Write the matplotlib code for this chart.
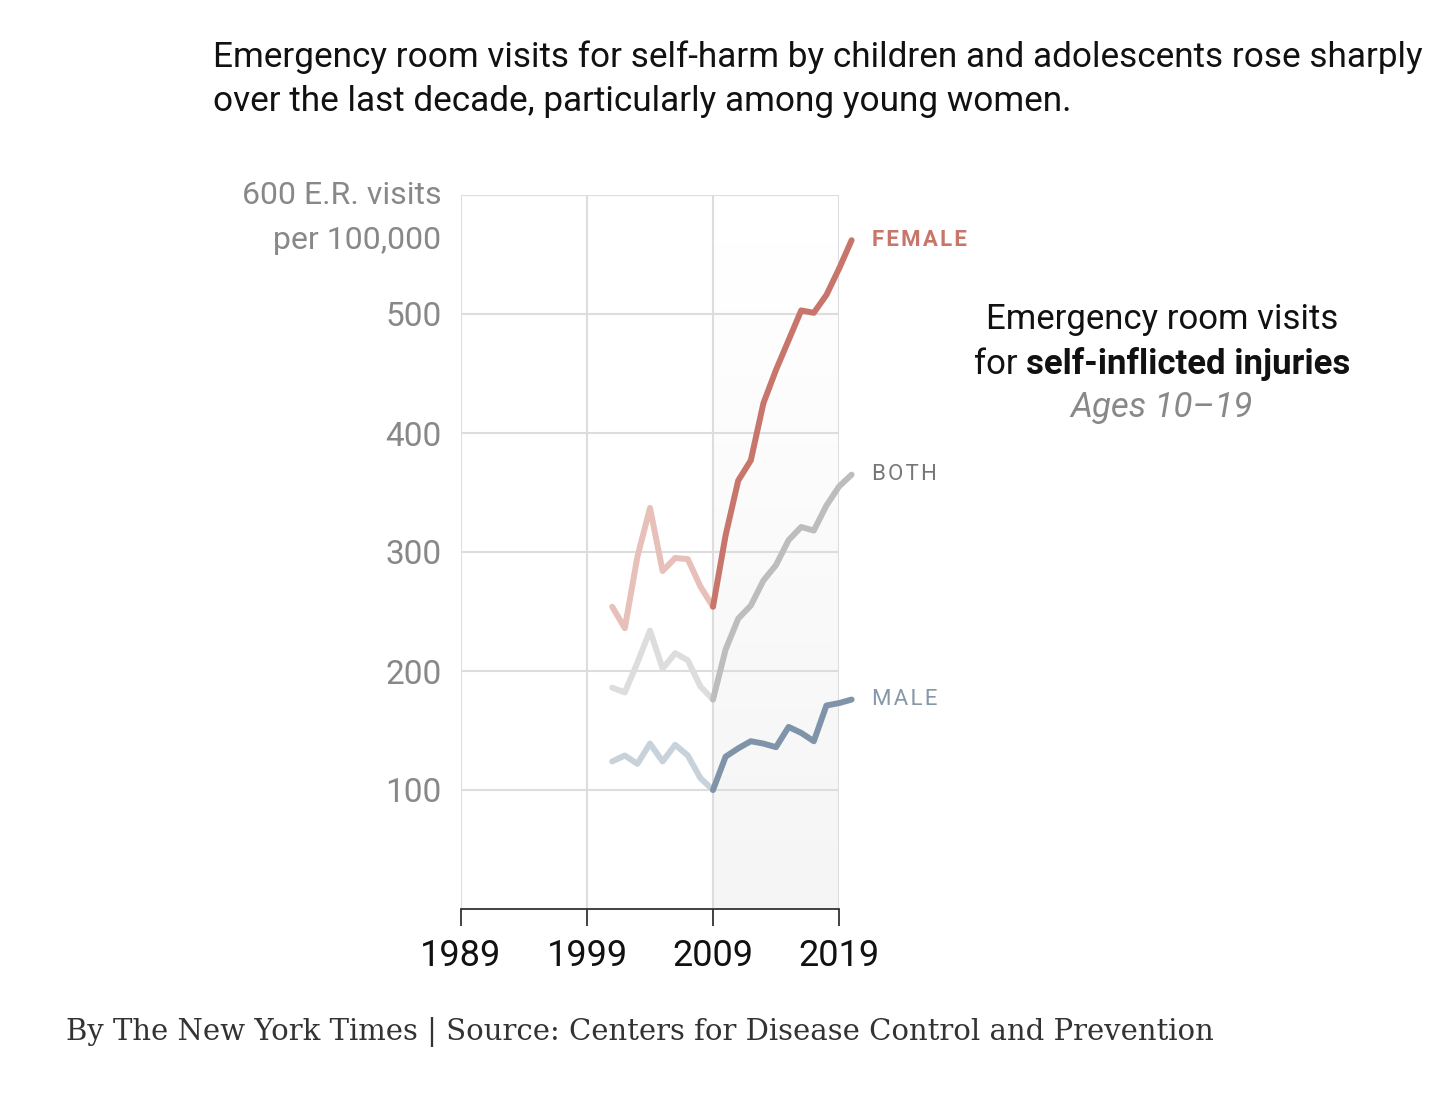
import numpy as np
import matplotlib
matplotlib.use('Agg')
import matplotlib.pyplot as plt
from matplotlib.offsetbox import TextArea, HPacker, AnnotationBbox

# values (E.R. visits per 100,000, ages 10-19)
years = list(range(2001, 2021))
female = [254, 236, 296, 337, 284, 295, 294, 271, 254, 314,
          360, 377, 425, 453, 478, 503, 501, 516, 538, 562]
both = [186, 182, 207, 234, 202, 215, 209, 187, 176, 218,
        244, 255, 276, 289, 310, 321, 318, 339, 355, 365]
male = [124, 129, 122, 139, 124, 138, 129, 110, 100, 128,
        135, 141, 139, 136, 153, 148, 141, 171, 173, 176]

x_ticks = [1989, 1999, 2009, 2019]
y_ticks = [100, 200, 300, 400, 500]
split_year = 2009

series = [
    ('FEMALE', female, '#c8766b', '#e6c0b9', 'bold', '#c8766b'),
    ('BOTH', both, '#bdbdbd', '#dddddd', 'normal', '#777777'),
    ('MALE', male, '#7f94a8', '#c8d2db', 'normal', '#8597a9'),
]

sans = 'Roboto'
serif = 'DejaVu Serif'

fig = plt.figure(figsize=(14.52, 11), dpi=100)
ax = fig.add_axes([461 / 1452, 1 - 909 / 1100, 378 / 1452, 714 / 1100])

# shaded recent decade, fading toward the top
grad = np.linspace(1, 0, 256).reshape(-1, 1)
cmap = matplotlib.colors.LinearSegmentedColormap.from_list('shade', ['#ffffff', '#f5f5f5'])
ax.imshow(grad, extent=[split_year, 2019, 0, 560], aspect='auto', cmap=cmap,
          origin='lower', zorder=0, vmin=0, vmax=1)
ax.set_aspect('auto')
ax.set_xlim(1989, 2019)
ax.set_ylim(0, 600)

# grid
for y in y_ticks + [600]:
    ax.plot([1989, 2019], [y, y], color='#dddddd', lw=1.5, zorder=1)
for xv in x_ticks:
    ax.plot([xv, xv], [0, 600], color='#dddddd', lw=1.5, zorder=1)

for name, vals, strong, faded, weight, lab_color in series:
    i = years.index(split_year)
    ax.plot(years[:i + 1], vals[:i + 1], color=faded, lw=4.3,
            solid_joinstyle='round', solid_capstyle='round', zorder=3, clip_on=False)
    ax.plot(years[i:], vals[i:], color=strong, lw=4.3,
            solid_joinstyle='round', solid_capstyle='round', zorder=4, clip_on=False)
    ax.annotate('\u200a'.join(name), xy=(years[-1], vals[-1]), xytext=(15, 0),
                textcoords='offset points', ha='left', va='center', fontsize=16,
                fontweight=weight, color=lab_color, family=[sans, 'DejaVu Sans'],
                annotation_clip=False)

for side in ['top', 'right', 'left']:
    ax.spines[side].set_visible(False)
ax.spines['bottom'].set_color('#333333')
ax.spines['bottom'].set_linewidth(1.3)
ax.spines['bottom'].set_zorder(5)

ax.set_xticks(x_ticks)
ax.set_xticklabels([str(v) for v in x_ticks], fontsize=26, family=sans, color='#111111')
ax.tick_params(axis='x', direction='out', length=12, width=1.3, color='#333333', pad=9)

ax.set_yticks(y_ticks)
ax.set_yticklabels([str(v) for v in y_ticks], fontsize=24, family=sans, color='#888888')
ax.tick_params(axis='y', length=0, pad=14)

ax.annotate('600 E.R. visits', xy=(0, 600), xycoords=('axes fraction', 'data'),
            xytext=(-14, 0), textcoords='offset points', ha='right', va='center',
            fontsize=23, family=sans, color='#888888')
ax.annotate('per 100,000', xy=(0, 600), xycoords=('axes fraction', 'data'),
            xytext=(-14, -33), textcoords='offset points', ha='right', va='center',
            fontsize=23, family=sans, color='#888888')

# title
fig.text(213 / 1452, 1 - 57 / 1100, 'Emergency room visits for self-harm by children and adolescents rose sharply',
         ha='left', va='center', fontsize=25.3, family=sans, color='#111111')
fig.text(213 / 1452, 1 - 102 / 1100, 'over the last decade, particularly among young women.',
         ha='left', va='center', fontsize=25.3, family=sans, color='#111111')

# chart label on the right
fig.text(1162 / 1452, 1 - 320 / 1100, 'Emergency room visits', ha='center', va='center',
         fontsize=25, family=sans, color='#111111')
line2 = HPacker(children=[
    TextArea('for ', textprops=dict(fontsize=25, family=sans, color='#111111')),
    TextArea('self-inflicted injuries', textprops=dict(fontsize=25, family=sans,
                                                       fontweight='bold', color='#111111')),
], pad=0, sep=0, align='baseline')
ab = AnnotationBbox(line2, (1162 / 1452, 1 - 364 / 1100), xycoords='figure fraction',
                    box_alignment=(0.5, 0.5), frameon=False, pad=0)
fig.add_artist(ab)
fig.text(1162 / 1452, 1 - 407 / 1100, 'Ages 10\u201319', ha='center', va='center',
         fontsize=25, family=sans, style='italic', color='#888888')

# source line
fig.text(66 / 1452, 1 - 1032 / 1100,
         'By The New York Times | Source: Centers for Disease Control and Prevention',
         ha='left', va='center', fontsize=21, family=serif, color='#333333')

fig.savefig('out.png', dpi=100, facecolor='white')
